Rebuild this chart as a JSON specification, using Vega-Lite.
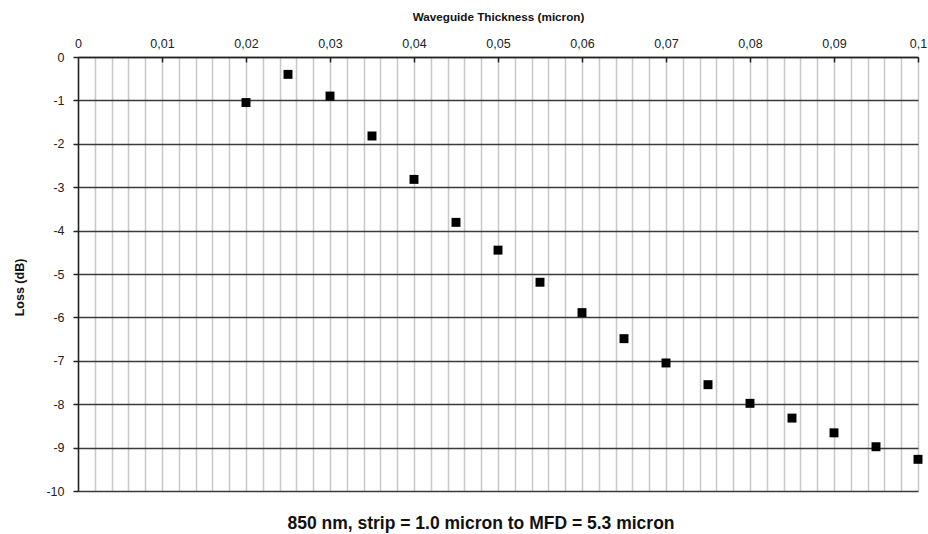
{
  "$schema": "https://vega.github.io/schema/vega-lite/v6.json",
  "autosize": "none",
  "width": 840,
  "height": 434,
  "padding": {"left": 78, "top": 57, "right": 10, "bottom": 43},
  "background": "white",
  "title": {
    "text": "850 nm, strip = 1.0 micron to MFD = 5.3 micron",
    "orient": "bottom",
    "anchor": "middle",
    "frame": "group",
    "dx": -17,
    "font": "Liberation Sans",
    "fontSize": 17.5,
    "fontWeight": "bold",
    "color": "#111",
    "offset": 17
  },
  "config": {
    "view": {"stroke": null},
    "font": "Liberation Sans"
  },
  "data": {
    "values": [
      {"thickness": 0.020, "loss": -1.05},
      {"thickness": 0.025, "loss": -0.40},
      {"thickness": 0.030, "loss": -0.90},
      {"thickness": 0.035, "loss": -1.82},
      {"thickness": 0.040, "loss": -2.82},
      {"thickness": 0.045, "loss": -3.81},
      {"thickness": 0.050, "loss": -4.45},
      {"thickness": 0.055, "loss": -5.19},
      {"thickness": 0.060, "loss": -5.89},
      {"thickness": 0.065, "loss": -6.49},
      {"thickness": 0.070, "loss": -7.05},
      {"thickness": 0.075, "loss": -7.55},
      {"thickness": 0.080, "loss": -7.98},
      {"thickness": 0.085, "loss": -8.32},
      {"thickness": 0.090, "loss": -8.66},
      {"thickness": 0.095, "loss": -8.98},
      {"thickness": 0.100, "loss": -9.27}
    ]
  },
  "mark": {"type": "square", "size": 80, "color": "black", "opacity": 1, "filled": true},
  "encoding": {
    "x": {
      "field": "thickness",
      "type": "quantitative",
      "scale": {"domain": [0, 0.1], "nice": false, "zero": false},
      "axis": {
        "orient": "top",
        "title": "Waveguide Thickness (micron)",
        "titleFont": "Liberation Sans",
        "titleFontSize": 11.7,
        "titleFontWeight": "bold",
        "titleColor": "#111",
        "titlePadding": 15,
        "values": [0,0.002,0.004,0.006,0.008,0.01,0.012,0.014,0.016,0.018,0.02,0.022,0.024,0.026,0.028,0.03,0.032,0.034,0.036,0.038,0.04,0.042,0.044,0.046,0.048,0.05,0.052,0.054,0.056,0.058,0.06,0.062,0.064,0.066,0.068,0.07,0.072,0.074,0.076,0.078,0.08,0.082,0.084,0.086,0.088,0.09,0.092,0.094,0.096,0.098,0.1],
        "labelExpr": "abs(datum.value*100 - round(datum.value*100)) < 1e-6 ? replace(format(datum.value, '~g'), '.', ',') : ''",
        "labelFont": "Liberation Sans",
        "labelFontSize": 12.5,
        "labelColor": "#222",
        "labelPadding": 12,
        "labelFlush": false,
        "labelOverlap": false,
        "tickSize": -5,
        "tickColor": "#222",
        "tickWidth": 1.5,
        "tickOpacity": {"condition": {"test": "abs(datum.value*100 - round(datum.value*100)) < 1e-6 && datum.value > 0", "value": 1}, "value": 0},
        "domainColor": "#222",
        "domainWidth": 1.5,
        "grid": true,
        "gridColor": "#c8c8c8",
        "gridWidth": 1.5
      }
    },
    "y": {
      "field": "loss",
      "type": "quantitative",
      "scale": {"domain": [-10, 0], "nice": false, "zero": false},
      "axis": {
        "title": "Loss (dB)",
        "titleFont": "Liberation Sans",
        "titleFontSize": 12.5,
        "titleFontWeight": "bold",
        "titleColor": "#111",
        "titlePadding": 19,
        "titleY": 230,
        "values": [-10,-9,-8,-7,-6,-5,-4,-3,-2,-1,0],
        "labelExpr": "replace(datum.label, '\u2212', '-')",
        "labelFont": "Liberation Sans",
        "labelFontSize": 12.5,
        "labelColor": "#222",
        "labelPadding": 9,
        "labelFlush": false,
        "tickSize": 5,
        "tickColor": "#222",
        "tickWidth": 1.5,
        "domainColor": "#222",
        "domainWidth": 1.5,
        "grid": true,
        "gridColor": "#3a3a3a",
        "gridWidth": 1.5
      }
    }
  }
}
